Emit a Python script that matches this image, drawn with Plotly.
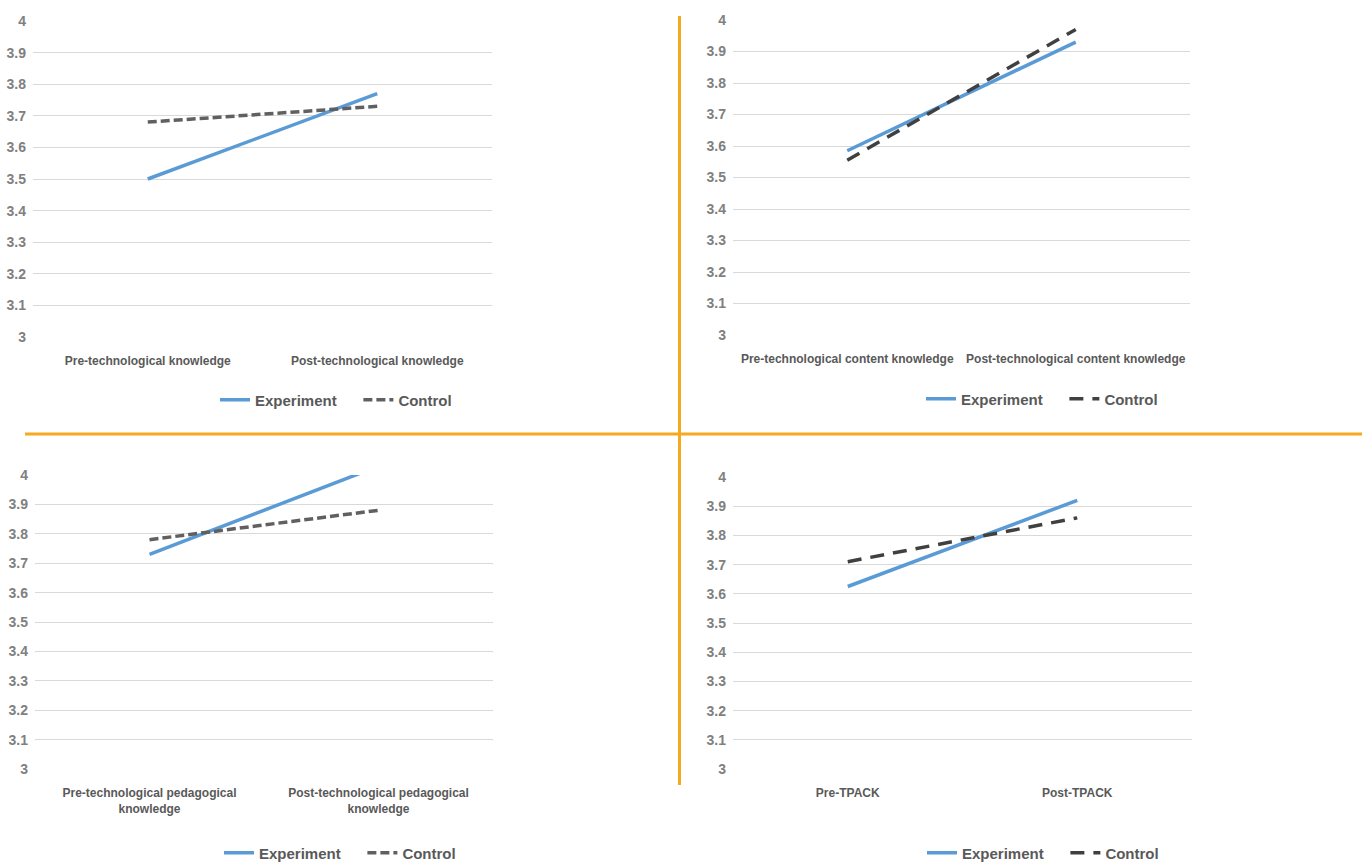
import plotly.graph_objects as go

W, H = 1362, 863

# ---- data ----
cats1 = ["Pre-technological knowledge", "Post-technological knowledge"]
exp1 = [3.50, 3.77]
ctl1 = [3.68, 3.73]

cats2 = ["Pre-technological content knowledge", "Post-technological content knowledge"]
exp2 = [3.585, 3.93]
ctl2 = [3.555, 3.97]

cats3 = ["Pre-technological pedagogical<br>knowledge", "Post-technological pedagogical<br>knowledge"]
exp3 = [3.73, 4.03]
ctl3 = [3.78, 3.88]

cats4 = ["Pre-TPACK", "Post-TPACK"]
exp4 = [3.625, 3.92]
ctl4 = [3.71, 3.86]

series_names = ["Experiment", "Control"]

y_ticks = [3, 3.1, 3.2, 3.3, 3.4, 3.5, 3.6, 3.7, 3.8, 3.9, 4]
y_ticktext = ["3", "3.1", "3.2", "3.3", "3.4", "3.5", "3.6", "3.7", "3.8", "3.9", "4"]

BLUE = "#5b9bd5"
ORANGE = "#f5a91e"
FONT = "Liberation Sans"
NB = "\u00a0"

def px_x(p):
    return p / W

def px_y(p):
    return 1 - p / H

panels = [
    # cats, exp, ctl, xdom(px), ydom(px top,bottom), dash, ctl color, legend center (x,y)
    (cats1, exp1, ctl1, (33, 492), (21, 337), "9px,4px", "#606060", (336, 400)),
    (cats2, exp2, ctl2, (733, 1190), (20, 335), "14px,9px", "#404040", (1042, 399)),
    (cats3, exp3, ctl3, (35, 493), (475, 769), "9px,4px", "#606060", (340, 853)),
    (cats4, exp4, ctl4, (733, 1192), (477, 769), "14px,9px", "#404040", (1043, 853)),
]

fig = go.Figure()
layout = {}
for i, (cats, ex, ct, xd, yd, dash, ccol, lg) in enumerate(panels, start=1):
    sfx = "" if i == 1 else str(i)
    lname = "legend" if i == 1 else f"legend{i}"
    fig.add_trace(go.Scatter(
        x=cats, y=ex, mode="lines", name=series_names[0] + NB * 4,
        line=dict(color=BLUE, width=3.5),
        xaxis=f"x{sfx}", yaxis=f"y{sfx}", legend=lname,
    ))
    fig.add_trace(go.Scatter(
        x=cats, y=ct, mode="lines", name=series_names[1],
        line=dict(color=ccol, width=3.5, dash=dash),
        xaxis=f"x{sfx}", yaxis=f"y{sfx}", legend=lname,
    ))
    layout[f"xaxis{sfx}"] = dict(
        domain=[px_x(xd[0]), px_x(xd[1])], anchor=f"y{sfx}",
        type="category", range=[-0.5, 1.5], automargin=False,
        showgrid=False, zeroline=False,
        showline=False, ticks="", ticklabelstandoff=15,
        tickfont=dict(family=FONT, size=12, color="#595959", weight="bold"),
        fixedrange=True,
    )
    layout[f"yaxis{sfx}"] = dict(
        domain=[px_y(yd[1]), px_y(yd[0])], anchor=f"x{sfx}",
        range=[3, 4], tickvals=y_ticks, ticktext=y_ticktext, automargin=False,
        showgrid=True, gridcolor="#d9d9d9", gridwidth=1,
        zeroline=False, showline=False, ticks="",
        tickfont=dict(family=FONT, size=14, color="#808080", weight="bold"),
        ticklabelstandoff=6, fixedrange=True,
    )
    layout[lname] = dict(
        orientation="h", x=px_x(lg[0]), y=px_y(lg[1]),
        xanchor="center", yanchor="middle",
        font=dict(family=FONT, size=15, color="#595959", weight="bold"),
        bgcolor="rgba(0,0,0,0)", itemwidth=30, tracegroupgap=0,
    )

fig.update_layout(**layout)
fig.update_layout(
    template="none",
    width=W, height=H, margin=dict(l=0, r=0, t=0, b=0, autoexpand=False),
    paper_bgcolor="white", plot_bgcolor="white",
    showlegend=True,
    shapes=[
        dict(type="line", xref="paper", yref="paper",
             x0=px_x(679.5), x1=px_x(679.5), y0=px_y(16), y1=px_y(785),
             line=dict(color=ORANGE, width=3)),
        dict(type="line", xref="paper", yref="paper",
             x0=px_x(25), x1=1, y0=px_y(434), y1=px_y(434),
             line=dict(color=ORANGE, width=3)),
    ],
)

fig.write_html(
    "out.html",
    config={"displayModeBar": False},
    post_script="document.body.style.margin='0';document.body.style.overflow='hidden';",
)
